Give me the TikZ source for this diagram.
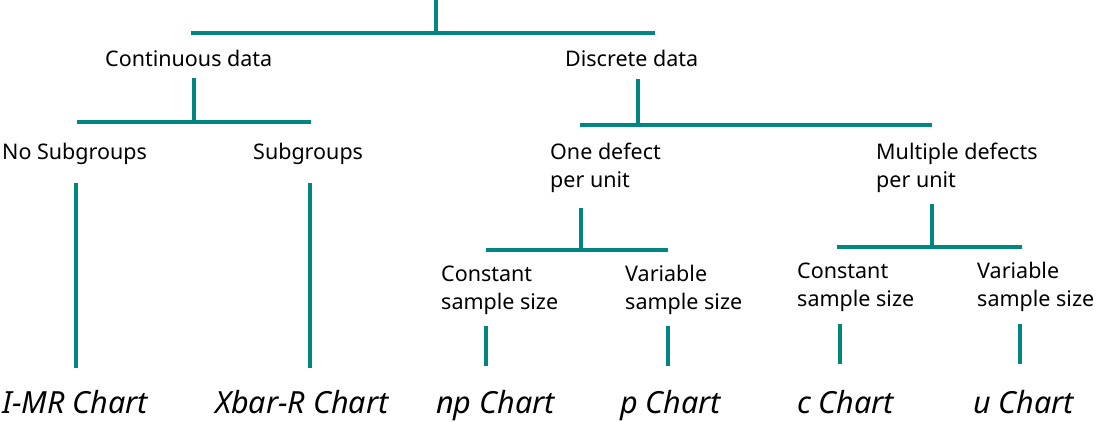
\documentclass[tikz,border=0pt]{standalone}
\usepackage{fontspec}
\setmainfont{Noto Sans}
\definecolor{teal1}{RGB}{0,133,128}
\begin{document}
\begin{tikzpicture}[x=1pt,y=-1pt,
  conn/.style={draw=teal1,line width=4pt},
  lbl/.style={anchor=west,inner sep=0pt,font=\fontsize{21.5}{28}\selectfont,align=left},
  chart/.style={anchor=base west,inner sep=0pt,font=\fontsize{30.5}{32}\selectfont\itshape}]
\useasboundingbox (0,0) rectangle (1097,421);
% labels
\node[lbl] (cont) at (105,58) {Continuous data};
\node[lbl] (disc) at (565,58) {Discrete data};
\node[lbl] (nosub) at (2,154) {No Subgroups};
\node[lbl] (sub) at (253,154) {Subgroups};
\node[lbl] (one) at (550,168) {One defect\\per unit};
\node[lbl] (mult) at (876,168) {Multiple defects\\per unit};
\node[lbl] (oc) at (441,290) {Constant\\sample size};
\node[lbl] (ov) at (625,290) {Variable\\sample size};
\node[lbl] (mc) at (797,287) {Constant\\sample size};
\node[lbl] (mv) at (977,287) {Variable\\sample size};
\node[chart] (imr) at (2,413) {I-MR Chart};
\node[chart] (xbar) at (215,413) {Xbar-R Chart};
\node[chart] (np) at (436,413) {np Chart};
\node[chart] (p) at (620,413) {p Chart};
\node[chart] (c) at (797,413) {c Chart};
\node[chart] (u) at (973,413) {u Chart};
% coordinates
\coordinate (t0) at (436,0);
\coordinate (t1) at (436,33);
\coordinate (tl) at (191,33);
\coordinate (tr) at (655,33);
\coordinate (c0) at (194,78);
\coordinate (c1) at (194,122);
\coordinate (cl) at (77,122);
\coordinate (cr) at (311,122);
\coordinate (d0) at (638,79);
\coordinate (d1) at (638,125);
\coordinate (dl) at (580,125);
\coordinate (dr) at (932,125);
\coordinate (o0) at (581,208);
\coordinate (o1) at (581,250);
\coordinate (ol) at (486,250);
\coordinate (or) at (668,250);
\coordinate (m0) at (932,204);
\coordinate (m1) at (932,247);
\coordinate (ml) at (837,247);
\coordinate (mr) at (1022,247);
\coordinate (n0) at (76,183);
\coordinate (n1) at (76,368);
\coordinate (s0) at (310,183);
\coordinate (s1) at (310,368);
\coordinate (a0) at (486,326);
\coordinate (a1) at (486,366);
\coordinate (b0) at (668,326);
\coordinate (b1) at (668,366);
\coordinate (e0) at (840,324);
\coordinate (e1) at (840,364);
\coordinate (f0) at (1020,324);
\coordinate (f1) at (1020,364);
% connectors
\draw[conn] (t0) -- (t1);
\draw[conn] (tl) -- (tr);
\draw[conn] (c0) -- (c1);
\draw[conn] (cl) -- (cr);
\draw[conn] (d0) -- (d1);
\draw[conn] (dl) -- (dr);
\draw[conn] (o0) -- (o1);
\draw[conn] (ol) -- (or);
\draw[conn] (m0) -- (m1);
\draw[conn] (ml) -- (mr);
\draw[conn] (n0) -- (n1);
\draw[conn] (s0) -- (s1);
\draw[conn] (a0) -- (a1);
\draw[conn] (b0) -- (b1);
\draw[conn] (e0) -- (e1);
\draw[conn] (f0) -- (f1);
\end{tikzpicture}
\end{document}
